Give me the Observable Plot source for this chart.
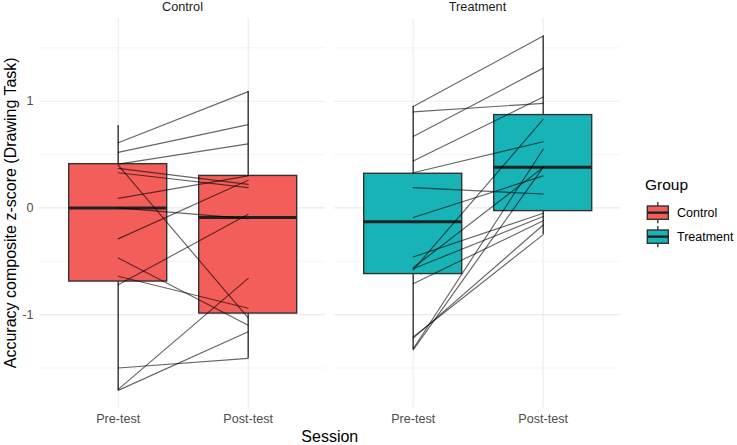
<!DOCTYPE html>
<html><head><meta charset="utf-8">
<script src="https://cdn.jsdelivr.net/npm/d3@7"></script>
<script src="https://cdn.jsdelivr.net/npm/@observablehq/plot@0.6"></script>
<style>body{margin:0;background:#fff} #chart{width:737px;height:445px}</style>
</head><body><div id="chart"></div>
<script>
const groups = ["Control", "Treatment"];
const sessions = ["Pre-test", "Post-test"];
const groupColors = ["#F35E5A", "#18B3B7"];
const yTicks = [-1, 0, 1];
const yMinorTicks = [-1.5, -0.5, 0.5, 1.5];
const xTitle = "Session";
const yTitle = "Accuracy composite z-score (Drawing Task)";
const legendTitle = "Group";

// Box statistics, one entry per group x session
const boxGroup   = ["Control", "Control", "Treatment", "Treatment"];
const boxSession = ["Pre-test", "Post-test", "Pre-test", "Post-test"];
const boxLow  = [-1.71, -1.41, -1.33, -0.25];
const boxQ1   = [-0.69, -0.99, -0.62, -0.03];
const boxMed  = [0.00, -0.09, -0.13, 0.38];
const boxQ3   = [0.41, 0.30, 0.32, 0.87];
const boxHigh = [0.77, 1.09, 0.95, 1.61];

// Individual participants (pre/post pairs)
const controlPre    = [0.77, 0.61, 0.52, 0.41, 0.40, 0.37, 0.33, 0.09, 0.00, -0.29, -0.47, -0.64, -0.72, -1.50, -1.70, -1.71];
const controlPost   = [null, 1.09, 0.78, 0.60, -1.03, 0.22, 0.19, 0.30, -0.10, 0.26, -1.10, -0.94, -0.06, -1.41, -0.66, -1.16];
const treatmentPre  = [0.95, 0.90, 0.67, 0.44, 0.33, 0.19, -0.09, -0.46, -0.56, -0.57, -0.58, -0.71, -1.21, -1.22, -1.32, -1.33];
const treatmentPost = [1.61, 0.98, 1.31, 1.04, 0.62, 0.13, 0.30, -0.05, 0.38, -0.08, 0.83, -0.12, -0.25, -0.16, 0.55, 0.38];

const boxes = boxGroup.map((g, i) => ({
  group: g, session: boxSession[i],
  lo: boxLow[i], q1: boxQ1[i], med: boxMed[i], q3: boxQ3[i], hi: boxHigh[i]
}));

function subjectRows(group, pre, post) {
  const out = [];
  pre.forEach((v, i) => {
    const id = group + i;
    if (v != null) out.push({group, id, session: sessions[0], value: v});
    if (post[i] != null) out.push({group, id, session: sessions[1], value: post[i]});
  });
  return out;
}
const subjects = [
  ...subjectRows(groups[0], controlPre, controlPost),
  ...subjectRows(groups[1], treatmentPre, treatmentPost)
];

const W = 737, H = 445;
const mL = 39.3, mR = 116.7, mT = 17.9, mB = 37.4;
const FONT = "'Liberation Sans', Arial, sans-serif";

const svg = Plot.plot({
  width: W, height: H,
  marginLeft: mL, marginRight: mR, marginTop: mT, marginBottom: mB,
  style: {fontFamily: FONT, fontSize: "12.6px", color: "#4D4D4D", background: "#fff"},
  fx: {domain: groups, paddingInner: 9 / 295, paddingOuter: 0, axis: null, label: null},
  x: {domain: sessions, paddingInner: 0.25, paddingOuter: 0.225, label: null},
  y: {domain: [-1.876, 1.776], label: null},
  color: {domain: groups, range: groupColors},
  marks: [
    Plot.gridY(yMinorTicks, {stroke: "#EBEBEB", strokeOpacity: 1, strokeWidth: 0.55}),
    Plot.gridY(yTicks, {stroke: "#EBEBEB", strokeOpacity: 1, strokeWidth: 1.1}),
    Plot.gridX(sessions, {stroke: "#EBEBEB", strokeOpacity: 1, strokeWidth: 1.1}),
    Plot.axisY(yTicks, {tickSize: 0, tickPadding: 6, tickFormat: d => String(d), label: null, fill: "#4D4D4D", fontSize: 12.6}),
    Plot.axisX({tickSize: 0, tickPadding: 6, label: null, fill: "#4D4D4D", fontSize: 12.6}),
    Plot.text(groups, {fx: d => d, text: d => d, frameAnchor: "top", lineAnchor: "middle", dy: -11, fill: "#1A1A1A", fontSize: 12.7}),
    Plot.ruleX(boxes, {fx: "group", x: "session", y1: "lo", y2: "q1", stroke: "#333", strokeWidth: 1.4}),
    Plot.ruleX(boxes, {fx: "group", x: "session", y1: "q3", y2: "hi", stroke: "#333", strokeWidth: 1.4}),
    Plot.barY(boxes, {fx: "group", x: "session", y1: "q1", y2: "q3", fill: "group", stroke: "#333", strokeWidth: 1.4}),
    Plot.tickY(boxes, {fx: "group", x: "session", y: "med", stroke: "#222", strokeWidth: 3}),
    Plot.line(subjects, {fx: "group", x: "session", y: "value", z: "id", stroke: "#000", strokeOpacity: 0.6, strokeWidth: 1.15})
  ]
});

const s = d3.select(svg);
s.append("text")
  .attr("transform", `translate(15.5,${(mT + H - mB) / 2}) rotate(-90)`)
  .attr("text-anchor", "middle").attr("font-size", 16).attr("fill", "#000")
  .text(yTitle);
s.append("text")
  .attr("x", (mL + W - mR) / 2).attr("y", 442)
  .attr("text-anchor", "middle").attr("font-size", 16).attr("fill", "#000")
  .text(xTitle);

// legend
const lg = s.append("g").attr("text-anchor", "start");
lg.append("text").attr("x", 645).attr("y", 190).attr("font-size", 15.5).attr("fill", "#000").attr("text-anchor", "start").text(legendTitle);
groups.forEach((g, i) => {
  const top = 206 + i * 24, bot = top + 13.3, mid = (top + bot) / 2, cx = 657.8;
  lg.append("line").attr("x1", cx).attr("x2", cx).attr("y1", top - 4).attr("y2", bot + 4).attr("stroke", "#333").attr("stroke-width", 1.4);
  lg.append("rect").attr("x", 647.3).attr("y", top).attr("width", 21).attr("height", bot - top)
    .attr("fill", groupColors[i]).attr("stroke", "#333").attr("stroke-width", 1.4);
  lg.append("line").attr("x1", 647.3).attr("x2", 668.3).attr("y1", mid).attr("y2", mid).attr("stroke", "#222").attr("stroke-width", 2.4);
  lg.append("text").attr("x", 677).attr("y", mid + 4.4).attr("font-size", 12.5).attr("fill", "#000").attr("text-anchor", "start").text(g);
});

document.getElementById("chart").appendChild(svg);
</script>
</body></html>
